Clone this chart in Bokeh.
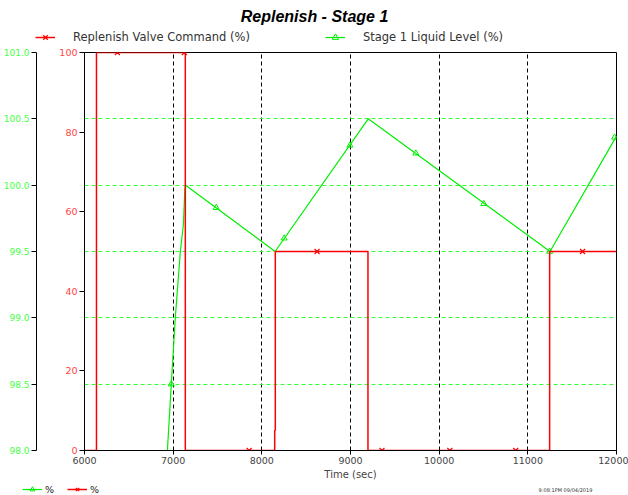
from bokeh.plotting import figure
from bokeh.layouts import column
from bokeh.models import (Range1d, LinearAxis, FixedTicker, PrintfTickFormatter,
                          Grid, Legend, LegendItem, Label)
from bokeh.embed import file_html
from bokeh.resources import INLINE

# ---- data ----
valve_t = [6000, 6135, 6135, 7137, 7137, 8145, 8145, 8152, 8152, 9197, 9197, 11246, 11246, 12000]
valve_v = [0, 0, 100, 100, 0, 0, 5, 5, 50, 50, 0, 0, 50, 50]
valve_mark_t = [6371, 7126, 7857, 8623, 9355, 10120, 10863, 11617]
valve_mark_v = [100, 100, 0, 50, 0, 0, 0, 50]

level_t = [6935, 6979, 7024, 7081, 7115, 7132, 7140, 8150, 9200, 11250, 12000]
level_v = [98.0, 98.5, 99.0, 99.5, 99.7, 99.97, 100.0, 99.5, 100.5, 99.5, 100.37]
level_mark_t = [6979, 7486, 8252, 8994, 9737, 10503, 11246, 11978]
level_mark_v = [98.5, 99.83, 99.6, 100.3, 100.24, 99.86, 99.5, 100.36]

x_ticks = [6000, 7000, 8000, 9000, 10000, 11000, 12000]
valve_ticks = [0, 20, 40, 60, 80, 100]
level_ticks = [98.0, 98.5, 99.0, 99.5, 100.0, 100.5, 101.0]
level_grid_ticks = [98.5, 99.0, 99.5, 100.0, 100.5]

title_text = "Replenish - Stage 1"
valve_name = "Replenish Valve Command (%)"
level_name = "Stage 1 Liquid Level (%)"
unit_labels = ["%", "%"]
stamp_text = "9:08:1PM 09/04/2019"

FONT = "DejaVu Sans"
RED = "#ff0000"
GREEN = "#00ee00"


def add_series(fig, level_range=None):
    """Draw both series; returns (level_line, level_marks, valve_line, valve_marks)."""
    kw = {"y_range_name": level_range} if level_range else {}
    gl = fig.line(level_t, level_v, line_color=GREEN, line_width=1.2, **kw)
    gm = fig.scatter(level_mark_t, level_mark_v, marker="triangle", size=6,
                     line_color=GREEN, fill_alpha=0, line_width=1, **kw)
    rl = fig.line(valve_t, valve_v, line_color=RED, line_width=1.5)
    rm = fig.scatter(valve_mark_t, valve_mark_v, marker="x", size=7,
                     line_color=RED, line_width=1.2)
    return gl, gm, rl, rm


def strip(height):
    # header/footer strip: same series, but its y window holds no data, so only
    # the legend samples of the series are visible
    f = figure(width=628, height=height, x_range=Range1d(6000, 12000),
               y_range=Range1d(-2000, -1000),
               output_backend="svg", toolbar_location=None,
               x_axis_location=None, y_axis_location=None,
               min_border=0, min_border_left=0, min_border_right=0,
               min_border_top=0, min_border_bottom=0)
    f.frame_align = False
    f.grid.visible = False
    f.outline_line_color = None
    f.background_fill_color = "white"
    f.border_fill_color = "white"
    return f


# ---------------- header: title + series legend ----------------
top = strip(46)
t_gl, t_gm, t_rl, t_rm = add_series(top)
top.add_layout(Label(x=314, y=30, x_units="screen", y_units="screen", text=title_text,
                     text_align="center", text_baseline="middle",
                     text_font="Liberation Sans", text_font_style="bold italic",
                     text_font_size="16px", text_color="#000000"))
top.add_layout(Legend(items=[LegendItem(label=valve_name, renderers=[t_rl, t_rm]),
                             LegendItem(label=level_name, renderers=[t_gl, t_gm])],
                     orientation="horizontal", location=(35, 1), spacing=75,
                     glyph_width=20, glyph_height=16, label_height=16, label_standoff=18,
                     padding=0, margin=0, border_line_alpha=0, background_fill_alpha=0,
                     label_text_font=FONT, label_text_font_size="11.5px",
                     label_text_color="#333333"))

# ---------------- main chart ----------------
p = figure(width=628, height=436, x_range=Range1d(6000, 12000), y_range=Range1d(0, 100),
           output_backend="svg", toolbar_location=None,
           min_border_left=83, min_border_right=12, min_border_top=6, min_border_bottom=31)
p.frame_align = False
p.extra_y_ranges = {"green": Range1d(98, 101)}
p.outline_line_color = "black"
p.outline_line_alpha = 1.0
p.background_fill_color = "white"
p.border_fill_color = "white"

xa = p.xaxis[0]
xa.ticker = FixedTicker(ticks=x_ticks)
xa.axis_label = "Time (sec)"
xa.axis_label_text_font = FONT
xa.axis_label_text_font_size = "10px"
xa.axis_label_text_font_style = "normal"
xa.axis_label_standoff = 2
xa.major_label_text_font = FONT
xa.major_label_text_font_size = "9.5px"
xa.major_tick_in = 0
xa.major_tick_out = 4
xa.minor_tick_out = 0
xa.minor_tick_in = 0
xa.axis_line_color = "black"
xa.major_label_standoff = 2

ya = p.yaxis[0]
ya.ticker = FixedTicker(ticks=valve_ticks)
ya.major_label_text_color = "#ff4444"
ya.major_label_text_font = FONT
ya.major_label_text_font_size = "9.5px"
ya.major_tick_in = 0
ya.major_tick_out = 5
ya.minor_tick_in = 0
ya.minor_tick_out = 0
ya.major_label_standoff = 2
ya.axis_label = " "
ya.axis_label_text_font_size = "10px"
ya.axis_label_standoff = 6

ga = LinearAxis(y_range_name="green", ticker=FixedTicker(ticks=level_ticks),
                formatter=PrintfTickFormatter(format="%.1f"))
ga.major_label_text_color = "#44ff44"
ga.major_label_text_font = FONT
ga.major_label_text_font_size = "9px"
ga.major_tick_in = 0
ga.major_tick_out = 5
ga.minor_tick_in = 0
ga.minor_tick_out = 0
ga.major_label_standoff = 2
p.add_layout(ga, "left")

p.ygrid.visible = False
p.xgrid.ticker = FixedTicker(ticks=x_ticks)
p.xgrid.grid_line_color = "black"
p.xgrid.grid_line_dash = "4 3"
p.xgrid.grid_line_width = 1
p.add_layout(Grid(dimension=1, y_range_name="green",
                  ticker=FixedTicker(ticks=level_grid_ticks),
                  grid_line_color="#33ff33", grid_line_dash="4 3", grid_line_width=1))

add_series(p, level_range="green")

# ---------------- footer: axis units + print stamp ----------------
bot = strip(13)
b_gl, b_gm, b_rl, b_rm = add_series(bot)
bot.add_layout(Legend(items=[LegendItem(label=unit_labels[0], renderers=[b_gl, b_gm]),
                             LegendItem(label=unit_labels[1], renderers=[b_rl, b_rm])],
                      orientation="horizontal", location=(22, 0), spacing=10,
                      glyph_width=20, glyph_height=12, label_height=12,
                      label_standoff=3, label_width=12,
                      padding=0, margin=0, border_line_alpha=0, background_fill_alpha=0,
                      label_text_font=FONT, label_text_font_size="9.5px",
                      label_text_color="#222222"))
bot.add_layout(Label(x=565, y=6, x_units="screen", y_units="screen", text=stamp_text,
                     text_align="center", text_baseline="middle",
                     text_font=FONT, text_font_size="5px", text_color="#333333"))

layout = column(top, p, bot, spacing=0)
open("out.html", "w").write(file_html(layout, INLINE))
